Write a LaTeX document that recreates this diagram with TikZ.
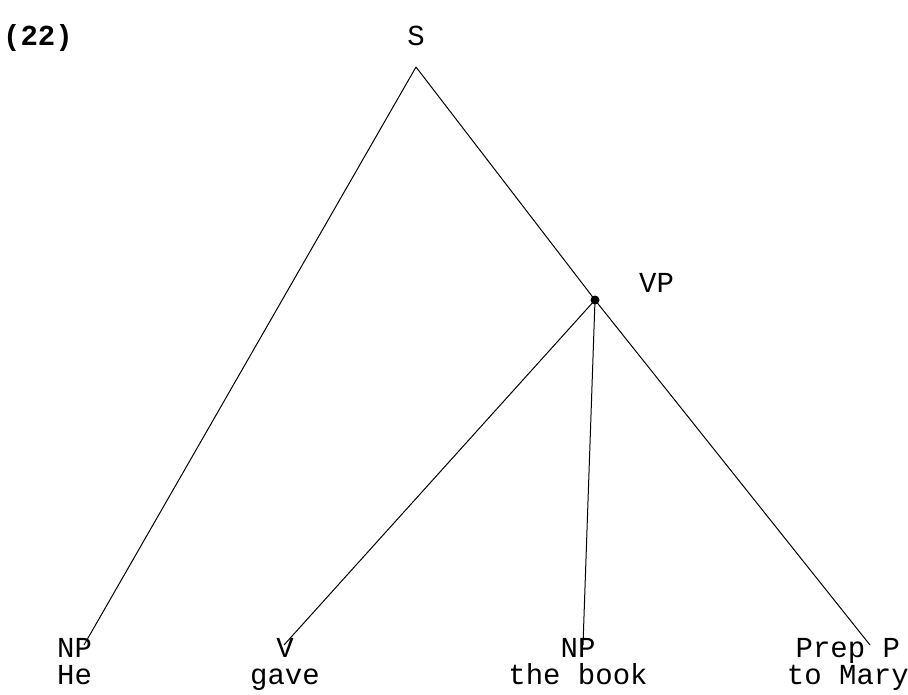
\documentclass[tikz,border=0pt]{standalone}
\usepackage{fontspec}
\setmonofont{Liberation Mono}
\usepackage{tikz}
\usetikzlibrary{positioning}

\tikzset{
    lbl/.style={font=\ttfamily\fontsize{29}{27}\selectfont, inner sep=0pt, anchor=base},
    leaf/.style={lbl, align=center, anchor=north},
    branch/.style={line width=1pt},
}

\begin{document}
\begin{tikzpicture}[x=1pt, y=-1pt]
    \useasboundingbox (0, 0) rectangle (908, 695);

    % ── NUMBER AND ROOT ───────────────────────────────────────────────
    \node[lbl, anchor=base west, font=\ttfamily\bfseries\fontsize{29}{33}\selectfont] (num) at (3, 46) {(22)};
    \node[lbl] (s) at (416, 46) {S};
    \coordinate (s-top) at (416, 67);

    % VP node (the dot) and its label
    \coordinate (vp) at (595, 300);
    \fill (vp) circle (4.5);
    \node[lbl, anchor=base west] (vp-lbl) at (639, 292) {VP};

    % ── LEAVES ────────────────────────────────────────────────────────
    \coordinate (np1) at (84, 645);
    \node[leaf, align=left, anchor=north west] (np1-lbl) at (57, 638) {NP\\He};

    \coordinate (v) at (284, 645);
    \node[leaf] (v-lbl) at (285, 638) {V\\gave};

    \coordinate (np2) at (583, 645);
    \node[leaf] (np2-lbl) at (578, 638) {NP\\the book};

    \coordinate (pp) at (870, 645);
    \node[leaf, anchor=north east] (pp-lbl) at (909, 638) {Prep P\\to Mary};

    % ── BRANCHES ──────────────────────────────────────────────────────
    \draw[branch] (s-top) -- (np1);
    \draw[branch] (s-top) -- (vp);
    \draw[branch] (vp) -- (v);
    \draw[branch] (vp) -- (np2);
    \draw[branch] (vp) -- (pp);
\end{tikzpicture}
\end{document}
